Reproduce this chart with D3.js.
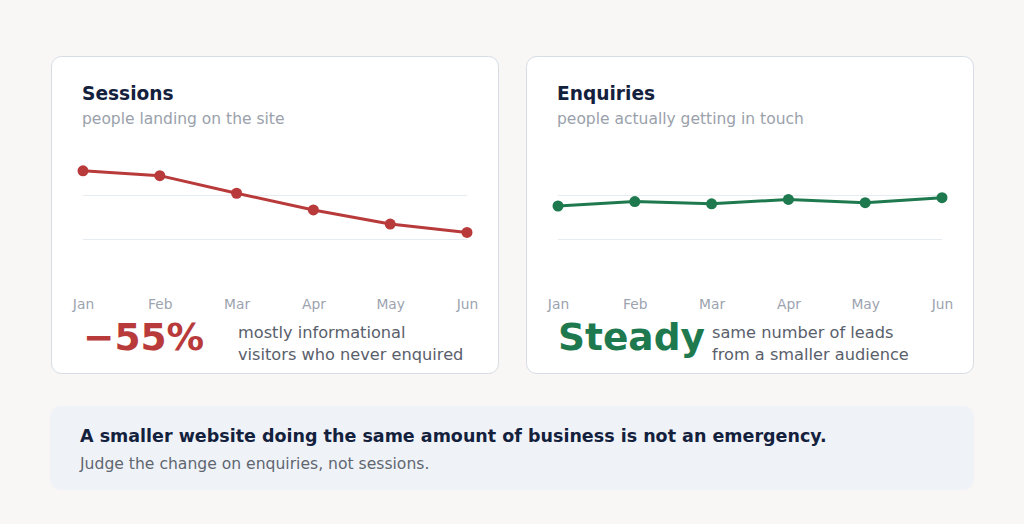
<!DOCTYPE html>
<html><head><meta charset="utf-8">
<script src="https://cdn.jsdelivr.net/npm/d3@7"></script>
<style>
html,body{margin:0;padding:0;background:#f8f7f5;}
svg{display:block;font-family:"DejaVu Sans",sans-serif;}
</style></head>
<body><svg id="c" width="1024" height="524"></svg>
<script>
const months = ["Jan","Feb","Mar","Apr","May","Jun"];
const sessions = [2550, 2440, 2040, 1660, 1340, 1150];
const enquiries = [35, 37, 36, 38, 36.5, 38.8];
const sessionsGrid = [1000, 2000];
const enquiriesGrid = [20, 40];

const svg = d3.select("#c");
svg.append("rect").attr("width",1024).attr("height",524).attr("fill","#f8f7f5");

const cards = [
  {x:51, title:"Sessions", sub:"people landing on the site", data:sessions, grid:sessionsGrid, dom:[0,3000],
   color:"#b83a3a", big:"\u221255%", desc:["mostly informational","visitors who never enquired"], descX:238},
  {x:526, title:"Enquiries", sub:"people actually getting in touch", data:enquiries, grid:enquiriesGrid, dom:[0,60],
   color:"#1e7a4e", big:"Steady", desc:["same number of leads","from a smaller audience"], descX:712}
];

cards.forEach(c => {
  const g = svg.append("g");
  g.append("rect").attr("x",c.x+0.5).attr("y",56.5).attr("width",447).attr("height",317)
    .attr("rx",10).attr("fill","#ffffff").attr("stroke","#d6dce4").attr("stroke-width",1);
  g.append("text").attr("x",c.x+31).attr("y",100).attr("font-size",18.6).attr("font-weight","bold")
    .attr("fill","#14213d").text(c.title);
  g.append("text").attr("x",c.x+31).attr("y",124).attr("font-size",15.5)
    .attr("fill","#9aa1ab").text(c.sub);

  const x = d3.scalePoint().domain(months).range([c.x+32, c.x+416]);
  const y = d3.scaleLinear().domain(c.dom).range([283, 151]);

  const gridAxis = d3.axisLeft(y).tickValues(c.grid).tickSize(-(384)).tickFormat("");
  const gg = g.append("g").attr("transform",`translate(${c.x+32},0)`).call(gridAxis);
  gg.select(".domain").remove();
  gg.selectAll(".tick line").attr("stroke","#e6ebf0").attr("stroke-width",1.2);

  const xAxis = d3.axisBottom(x).tickSize(0).tickPadding(0);
  const xg = g.append("g").attr("transform","translate(0,299.5)").call(xAxis);
  xg.select(".domain").remove();
  xg.selectAll("text").attr("font-size",13.8).attr("fill","#9ca3af")
    .attr("font-family","DejaVu Sans, sans-serif").attr("dy","0.71em");

  const line = d3.line().x((d,i)=>x(months[i])).y(d=>y(d));
  g.append("path").datum(c.data).attr("d",line).attr("fill","none")
    .attr("stroke",c.color).attr("stroke-width",3).attr("stroke-linejoin","round");
  g.selectAll("circle.pt").data(c.data).enter().append("circle")
    .attr("cx",(d,i)=>x(months[i])).attr("cy",d=>y(d)).attr("r",5.5).attr("fill",c.color);

  g.append("text").attr("x",c.x+32).attr("y",350).attr("font-size",37.5).attr("font-weight","bold")
    .attr("fill",c.color).text(c.big);
  c.desc.forEach((t,i)=>{
    g.append("text").attr("x",c.descX).attr("y",337.5+i*22).attr("font-size",16.2)
      .attr("fill","#59606b").text(t);
  });
});

svg.append("rect").attr("x",50).attr("y",406).attr("width",924).attr("height",84).attr("rx",10)
  .attr("fill","#eff3f8");
svg.append("text").attr("x",80).attr("y",442).attr("font-size",17.5).attr("font-weight","bold")
  .attr("fill","#14213d").text("A smaller website doing the same amount of business is not an emergency.");
svg.append("text").attr("x",80).attr("y",469).attr("font-size",15.6)
  .attr("fill","#5f6670").text("Judge the change on enquiries, not sessions.");
</script></body></html>
